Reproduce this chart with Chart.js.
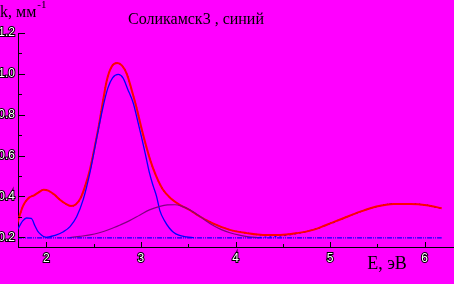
<!DOCTYPE html>
<html>
<head>
<meta charset="utf-8">
<script src="https://cdn.jsdelivr.net/npm/chart.js@4"></script>
<style>
  html, body { margin: 0; padding: 0; background: #ff00ff; overflow: hidden; }
  canvas { display: block; }
</style>
</head>
<body>
<canvas id="chart" width="454" height="284"></canvas>
<script>
// Textos
const chartTitle = 'Соликамск3 , синий';
const yAxisLabel = 'k, мм';
const yAxisSup = '-1';
const xAxisLabel = 'E, эВ';

// Ticks
const xTickValues = [2, 3, 4, 5, 6];
const xMinorTicks = [2.5, 3.5, 4.5, 5.5];
const yTickValues = [0.2, 0.4, 0.6, 0.8, 1.0, 1.2];
const yMinorTicks = [0.3, 0.5, 0.7, 0.9, 1.1];

// Soma ajustada (vermelho) / medida (pontos pretos)
const totalE = [1.69, 1.72, 1.75, 1.78, 1.82, 1.87, 1.92, 1.97, 2.02, 2.08, 2.14, 2.20, 2.26, 2.31, 2.36, 2.41, 2.46, 2.51, 2.56, 2.60, 2.64, 2.69, 2.75, 2.80, 2.85, 2.90, 2.95, 3.00, 3.05, 3.10, 3.16, 3.23, 3.32, 3.41, 3.52, 3.59, 3.76, 3.94, 4.12, 4.29, 4.47, 4.65, 4.82, 4.96, 5.14, 5.32, 5.49, 5.67, 5.85, 6.02, 6.18];
const totalK = [0.265, 0.31, 0.35, 0.375, 0.395, 0.405, 0.42, 0.432, 0.428, 0.41, 0.385, 0.365, 0.353, 0.36, 0.39, 0.45, 0.53, 0.64, 0.76, 0.87, 0.97, 1.035, 1.053, 1.04, 1.0, 0.925, 0.84, 0.745, 0.655, 0.575, 0.5, 0.435, 0.388, 0.358, 0.332, 0.31, 0.268, 0.236, 0.22, 0.211, 0.211, 0.22, 0.236, 0.26, 0.293, 0.325, 0.35, 0.363, 0.363, 0.357, 0.342];

// Pico pequeno (azul)
const smallE = [1.69, 1.72, 1.75, 1.79, 1.84, 1.88, 1.91, 1.95, 1.99, 2.02];
const smallK = [0.232, 0.258, 0.28, 0.294, 0.292, 0.255, 0.228, 0.21, 0.2, 0.198];

// Pico principal (azul)
const mainE = [1.99, 2.04, 2.10, 2.18, 2.25, 2.32, 2.39, 2.46, 2.53, 2.60, 2.65, 2.70, 2.76, 2.81, 2.86, 2.92, 2.96, 3.005, 3.05, 3.09, 3.13, 3.165, 3.20, 3.25, 3.30, 3.34, 3.40, 3.48, 3.56];
const mainK = [0.198, 0.203, 0.21, 0.227, 0.252, 0.30, 0.385, 0.515, 0.68, 0.84, 0.93, 0.98, 0.997, 0.98, 0.925, 0.855, 0.78, 0.693, 0.60, 0.515, 0.45, 0.40, 0.33, 0.28, 0.245, 0.226, 0.21, 0.202, 0.198];

// Pico largo (roxo)
const broadE = [2.25, 2.35, 2.46, 2.56, 2.67, 2.78, 2.88, 2.99, 3.09, 3.20, 3.28, 3.36, 3.43, 3.52, 3.60, 3.68, 3.76, 3.85, 3.94, 4.04, 4.14, 4.25];
const broadK = [0.198, 0.204, 0.211, 0.222, 0.239, 0.26, 0.281, 0.309, 0.334, 0.351, 0.358, 0.359, 0.352, 0.333, 0.31, 0.283, 0.258, 0.237, 0.222, 0.21, 0.202, 0.198];

// Pico em alta energia (azul)
const highE = [4.20, 4.35, 4.50, 4.65, 4.80, 4.96, 5.14, 5.32, 5.49, 5.67, 5.85, 6.02, 6.18];
const highK = [0.198, 0.201, 0.207, 0.218, 0.234, 0.258, 0.292, 0.325, 0.35, 0.364, 0.364, 0.356, 0.34];

// Linha de base
const baseE = [1.69, 6.18];
const baseK = [0.197, 0.197];

function pts(xs, ys) {
    return xs.map(function(x, i) { return { x: x, y: ys[i] }; });
}

function line(data, color, width, dash) {
    return {
        data: data,
        borderColor: color,
        borderWidth: width,
        borderDash: dash || [],
        pointRadius: 0,
        fill: false,
        cubicInterpolationMode: 'monotone'
    };
}

// Fundo, ticks internos e textos
const decorPlugin = {
    id: 'decor',
    beforeDraw: function(chart) {
        const ctx = chart.ctx;
        ctx.save();
        ctx.fillStyle = '#ff00ff';
        ctx.fillRect(0, 0, chart.width, chart.height);
        ctx.restore();
    },
    afterDraw: function(chart) {
        const ctx = chart.ctx;
        const xs = chart.scales.x;
        const ys = chart.scales.y;
        const area = chart.chartArea;
        ctx.save();
        ctx.strokeStyle = '#000';
        ctx.lineWidth = 1;
        ctx.beginPath();
        yTickValues.forEach(function(v) {
            const py = Math.round(ys.getPixelForValue(v)) + 0.5;
            ctx.moveTo(area.left, py);
            ctx.lineTo(area.left + 7, py);
        });
        yMinorTicks.forEach(function(v) {
            const py = Math.round(ys.getPixelForValue(v)) + 0.5;
            ctx.moveTo(area.left, py);
            ctx.lineTo(area.left + 4, py);
        });
        xTickValues.forEach(function(v) {
            const px = Math.round(xs.getPixelForValue(v)) + 0.5;
            ctx.moveTo(px, area.bottom);
            ctx.lineTo(px, area.bottom - 5);
        });
        xMinorTicks.forEach(function(v) {
            const px = Math.round(xs.getPixelForValue(v)) + 0.5;
            ctx.moveTo(px, area.bottom);
            ctx.lineTo(px, area.bottom - 3);
        });
        ctx.stroke();

        ctx.fillStyle = '#000';
        ctx.textBaseline = 'alphabetic';
        ctx.textAlign = 'center';
        ctx.font = '16px "Liberation Serif"';
        ctx.fillText(chartTitle, 196, 24);

        ctx.textAlign = 'left';
        ctx.font = '16px "Liberation Serif"';
        ctx.fillText(yAxisLabel, 0, 17);
        const w = ctx.measureText(yAxisLabel).width;
        ctx.font = '11px "Liberation Serif"';
        ctx.fillText(yAxisSup, w + 1, 8);

        ctx.textAlign = 'center';
        ctx.font = '18px "Liberation Serif"';
        ctx.fillText(xAxisLabel, 387, 269);
        ctx.restore();
    }
};

const tickFont = { family: '"Liberation Sans"', size: 12 };

new Chart(document.getElementById('chart'), {
    type: 'line',
    data: {
        datasets: [
            line(pts(baseE, baseK), '#0000ff', 1.3, [5, 1, 1, 1, 1, 1]),
            line(pts(broadE, broadK), '#800080', 1.2),
            line(pts(smallE, smallK), '#0000ff', 1.3),
            line(pts(mainE, mainK), '#0000ff', 1.3),
            line(pts(totalE, totalK), '#ff0000', 2),
            line(pts(totalE, totalK), '#000000', 1.2, [1, 3]),
            line(pts(highE, highK), '#0000ff', 1.2, [2, 3])
        ]
    },
    plugins: [decorPlugin],
    options: {
        responsive: false,
        animation: false,
        layout: { padding: { top: 33, left: 0, right: 0, bottom: 0 } },
        plugins: {
            legend: { display: false },
            tooltip: { enabled: false },
            title: { display: false }
        },
        scales: {
            x: {
                type: 'linear',
                min: 1.70,
                max: 6.31,
                grid: { display: false, drawTicks: false },
                border: { display: true, color: '#000', width: 1 },
                afterBuildTicks: function(scale) {
                    scale.ticks = xTickValues.map(function(v) { return { value: v }; });
                },
                afterFit: function(scale) { scale.height = 37; },
                ticks: {
                    padding: 4,
                    maxRotation: 0,
                    color: '#ffffff',
                    textStrokeColor: '#000000',
                    textStrokeWidth: 2,
                    font: tickFont,
                    callback: function(v) { return String(v); }
                }
            },
            y: {
                type: 'linear',
                min: 0.152,
                max: 1.2,
                grid: { display: false, drawTicks: false },
                border: { display: true, color: '#000', width: 1 },
                afterBuildTicks: function(scale) {
                    scale.ticks = yTickValues.map(function(v) { return { value: v }; });
                },
                afterFit: function(scale) { scale.width = 18; },
                ticks: {
                    padding: 3,
                    color: '#ffffff',
                    textStrokeColor: '#000000',
                    textStrokeWidth: 2,
                    font: tickFont,
                    callback: function(v) { return Number(v).toFixed(1); }
                }
            }
        }
    }
});
</script>
</body>
</html>
